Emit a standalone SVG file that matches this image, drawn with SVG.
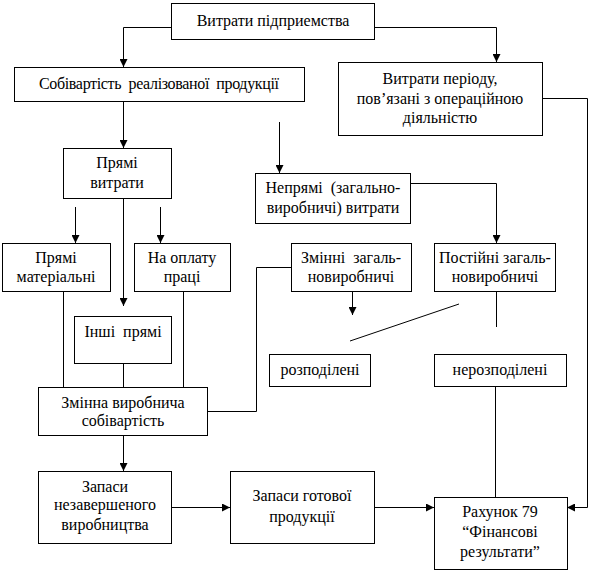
<svg xmlns="http://www.w3.org/2000/svg" width="592" height="572" viewBox="0 0 592 572">
<defs>
<marker id="ah" viewBox="0 0 8 8" refX="8" refY="4" markerWidth="8" markerHeight="8" markerUnits="userSpaceOnUse" orient="auto">
<path d="M0,0 L8,4 L0,8 Z" fill="#000"/>
</marker>
<style>
rect{fill:#fff;stroke:#000;stroke-width:1}
text{font-family:'Liberation Serif','Times New Roman',serif;font-size:16px;fill:#000;text-anchor:middle}
.c line,.c polyline{fill:none;stroke:#000;stroke-width:1}
.a{marker-end:url(#ah)}
</style>
</defs>
<rect x="0" y="0" width="592" height="572" style="fill:#fff;stroke:none"/>
<g class="c" id="connectors">
<polyline class="a" points="171.5,27.5 123.5,27.5 123.5,67"/>
<polyline class="a" points="374.5,27.5 496.5,27.5 496.5,62"/>
<polyline class="a" points="542.5,98.5 587.5,98.5 587.5,507.5 567,507.5"/>
<line class="a" x1="123.5" y1="101" x2="123.5" y2="148"/>
<line class="a" x1="279.5" y1="122" x2="279.5" y2="173"/>
<polyline class="a" points="410.5,183.5 496.5,183.5 496.5,243"/>
<line class="a" x1="75.5" y1="207" x2="75.5" y2="243"/>
<line class="a" x1="160.5" y1="207" x2="160.5" y2="243"/>
<line class="a" x1="123.5" y1="198" x2="123.5" y2="306"/>
<line class="a" x1="352.5" y1="275" x2="352.5" y2="315"/>
<line x1="350" y1="341" x2="459" y2="304"/>
<line x1="496.5" y1="291" x2="496.5" y2="327"/>
<line x1="495.5" y1="386" x2="495.5" y2="497"/>
<polyline points="291,267.5 256.5,267.5 256.5,411.5 207,411.5"/>
<line x1="63.5" y1="291" x2="63.5" y2="387"/>
<line x1="183.5" y1="291" x2="183.5" y2="387"/>
<line x1="123.5" y1="363" x2="123.5" y2="387"/>
<line class="a" x1="123.5" y1="435" x2="123.5" y2="471"/>
<line class="a" x1="171" y1="507.5" x2="230" y2="507.5"/>
<line class="a" x1="374" y1="507.5" x2="434" y2="507.5"/>
</g>
<g id="n-vytraty">
<rect x="171.5" y="3.5" width="203" height="36"/>
<text x="273" y="26">Витрати підприемства</text>
</g>
<g id="n-sobivartist">
<rect x="14.5" y="67.5" width="290" height="34"/>
<text x="159" y="89" xml:space="preserve" textLength="240">Собівартість  реалізованої  продукції</text>
</g>
<g id="n-period">
<rect x="338.5" y="62.5" width="204" height="73"/>
<text x="440" y="84">Витрати періоду,</text>
<text x="440" y="104">пов’язані з операційною</text>
<text x="440" y="123">діяльністю</text>
</g>
<g id="n-priami">
<rect x="63.5" y="148.5" width="108" height="50"/>
<text x="117" y="168">Прямі</text>
<text x="117" y="188">витрати</text>
</g>
<g id="n-nepriami">
<rect x="255.5" y="173.5" width="155" height="50"/>
<text x="333" y="193" xml:space="preserve">Непрямі  (загально-</text>
<text x="333" y="213">виробничі) витрати</text>
</g>
<g id="n-materialni">
<rect x="2.5" y="243.5" width="108" height="48"/>
<text x="56" y="263">Прямі</text>
<text x="56" y="282">матеріальні</text>
</g>
<g id="n-oplata">
<rect x="134.5" y="243.5" width="96" height="48"/>
<text x="182" y="263">На оплату</text>
<text x="182" y="282">праці</text>
</g>
<g id="n-zminni">
<rect x="291.5" y="243.5" width="120" height="48"/>
<text x="351" y="263" xml:space="preserve">Змінні  загаль-</text>
<text x="351" y="282">новиробничі</text>
</g>
<g id="n-postiini">
<rect x="434.5" y="243.5" width="121" height="48"/>
<text x="495" y="263">Постійні загаль-</text>
<text x="495" y="282">новиробничі</text>
</g>
<g id="n-inshi">
<rect x="74.5" y="316.5" width="97" height="47"/>
<text x="123" y="337" xml:space="preserve">Інші  прямі</text>
</g>
<g id="n-rozpodileni">
<rect x="269.5" y="354.5" width="101" height="32"/>
<text x="320" y="375">розподілені</text>
</g>
<g id="n-nerozpodileni">
<rect x="434.5" y="354.5" width="132" height="32"/>
<text x="500" y="375">нерозподілені</text>
</g>
<g id="n-zminna">
<rect x="38.5" y="387.5" width="169" height="48"/>
<text x="123" y="408">Змінна виробнича</text>
<text x="123" y="426">собівартість</text>
</g>
<g id="n-nezaversheni">
<rect x="38.5" y="471.5" width="133" height="72"/>
<text x="105" y="492">Запаси</text>
<text x="105" y="510">незавершеного</text>
<text x="105" y="530">виробництва</text>
</g>
<g id="n-hotova">
<rect x="230.5" y="471.5" width="144" height="72"/>
<text x="302" y="501">Запаси готової</text>
<text x="302" y="522">продукції</text>
</g>
<g id="n-rakhunok">
<rect x="434.5" y="497.5" width="133" height="72"/>
<text x="500" y="517">Рахунок 79</text>
<text x="500" y="537">“Фінансові</text>
<text x="500" y="557">результати”</text>
</g>
</svg>
